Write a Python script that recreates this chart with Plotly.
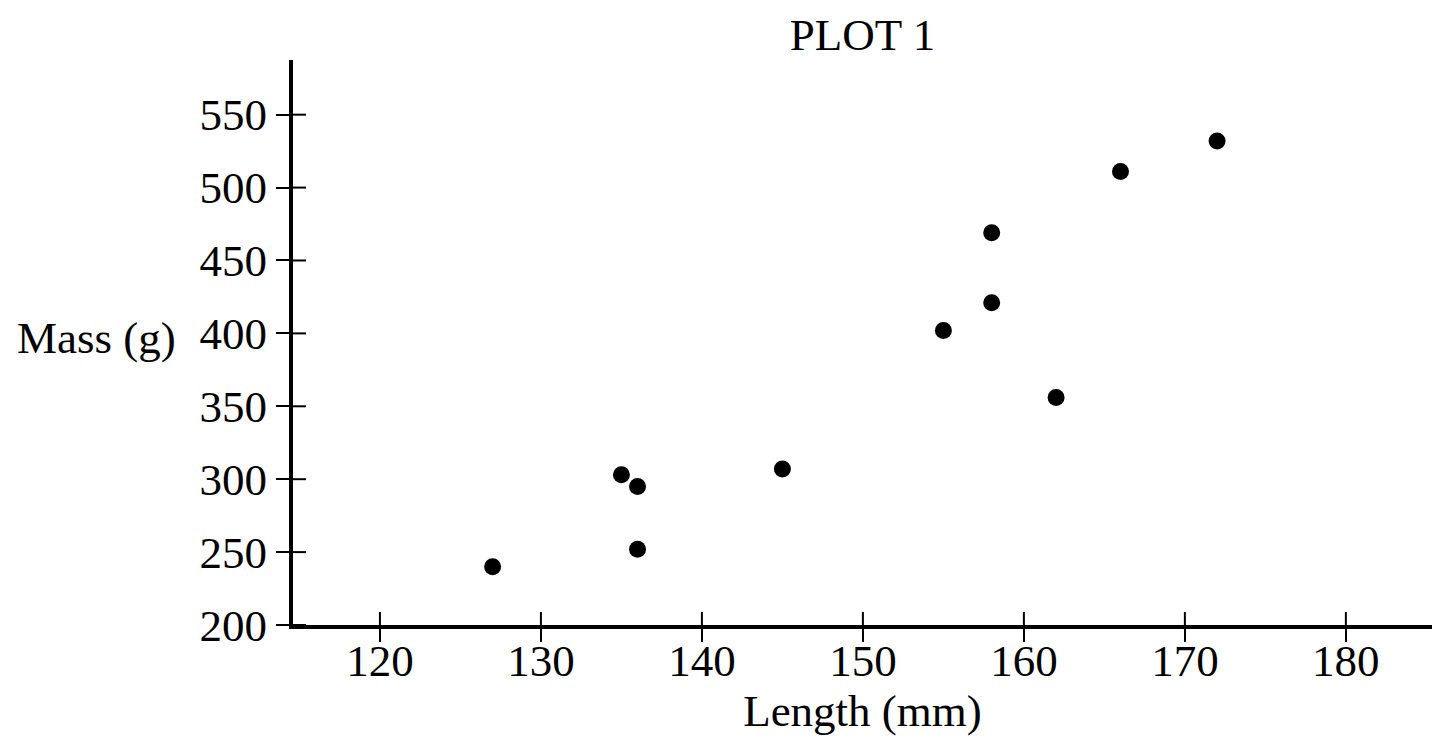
import plotly.graph_objects as go

# dados
length_mm = [127, 135, 136, 136, 145, 155, 158, 158, 162, 166, 172]
mass_g = [240, 303, 295, 252, 307, 402, 469, 421, 356, 511, 532]

x_ticks = [120, 130, 140, 150, 160, 170, 180]
y_ticks = [200, 250, 300, 350, 400, 450, 500, 550]

x_range = [114.6, 185.35]
y_range = [200, 587.5]

FONTE = dict(family="Liberation Serif", size=45, color="black")

fig = go.Figure()

fig.add_trace(
    go.Scatter(
        x=length_mm,
        y=mass_g,
        mode="markers",
        marker=dict(color="black", size=17),
        showlegend=False,
    )
)

# metade interna dos ticks (os ticks cruzam o eixo)
for t in x_ticks:
    fig.add_shape(
        type="line",
        xref="x", yref="y",
        x0=t, x1=t,
        ysizemode="pixel", yanchor=y_range[0],
        y0=0, y1=13,
        line=dict(color="black", width=2),
    )

for t in y_ticks:
    fig.add_shape(
        type="line",
        xref="x", yref="y",
        y0=t, y1=t,
        xsizemode="pixel", xanchor=x_range[0],
        x0=0, x1=13,
        line=dict(color="black", width=2),
    )

fig.add_annotation(
    text="Mass (g)",
    xref="paper", yref="paper",
    x=0, y=(397 - y_range[0]) / (y_range[1] - y_range[0]),
    xanchor="right", yanchor="middle",
    xshift=-115,
    showarrow=False,
    font=FONTE,
)

# a pagina tem margem de 8px no body
fig.update_layout(
    width=1440,
    height=745,
    margin=dict(l=285, r=16, t=52, b=128),
    paper_bgcolor="white",
    plot_bgcolor="white",
    font=FONTE,
    title=dict(
        text="PLOT 1",
        x=0.5, xref="paper", xanchor="center",
        y=1, yref="container", yanchor="top",
        pad=dict(t=10),
        font=FONTE,
    ),
)

fig.update_xaxes(
    range=x_range,
    tickvals=x_ticks,
    ticks="outside",
    ticklen=13,
    tickwidth=2,
    tickcolor="black",
    ticklabelstandoff=-20,
    showline=True,
    linewidth=4,
    linecolor="black",
    showgrid=False,
    zeroline=False,
    title=dict(text="Length (mm)", font=FONTE, standoff=2),
    tickfont=FONTE,
)

fig.update_yaxes(
    range=y_range,
    tickvals=y_ticks,
    ticks="outside",
    ticklen=13,
    tickwidth=2,
    tickcolor="black",
    showline=True,
    linewidth=4,
    linecolor="black",
    showgrid=False,
    zeroline=False,
    tickfont=FONTE,
)

fig.write_html("out.html")
